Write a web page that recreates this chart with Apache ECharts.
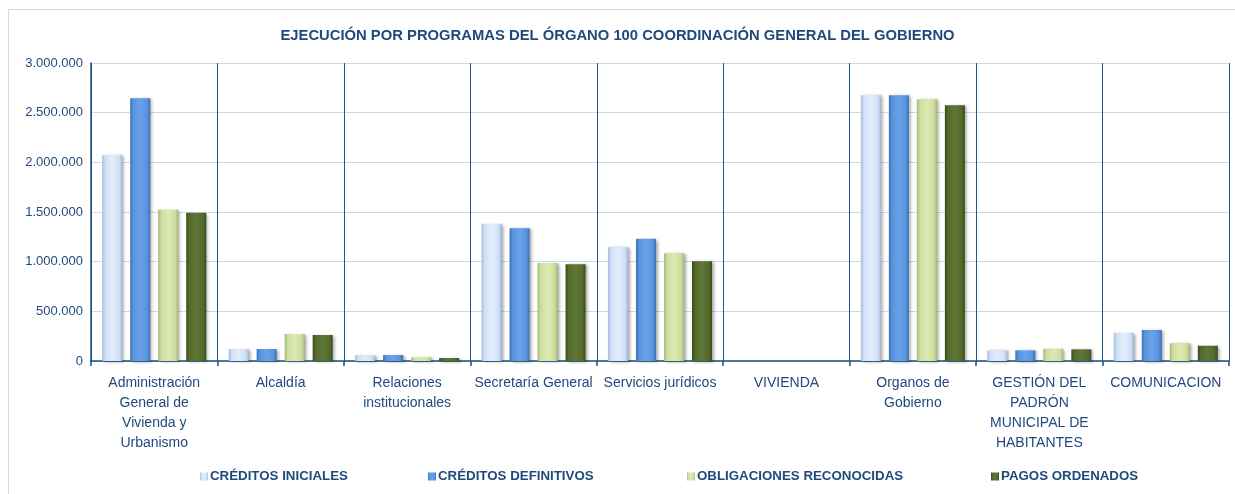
<!DOCTYPE html>
<html>
<head>
<meta charset="utf-8">
<script src="https://cdn.jsdelivr.net/npm/echarts@6/dist/echarts.min.js"></script>
<style>
html,body{margin:0;padding:0;background:#fff;}
#chart{width:1235px;height:494px;}
</style>
</head>
<body>
<div id="chart"></div>
<script>
const titleText = 'EJECUCIÓN POR PROGRAMAS DEL ÓRGANO 100 COORDINACIÓN GENERAL DEL GOBIERNO';
const categories = [
  'Administración\nGeneral de\nVivienda y\nUrbanismo',
  'Alcaldía',
  'Relaciones\ninstitucionales',
  'Secretaría General',
  'Servicios jurídicos',
  'VIVIENDA',
  'Organos de\nGobierno',
  'GESTIÓN DEL\nPADRÓN\nMUNICIPAL DE\nHABITANTES',
  'COMUNICACION'
];
const seriesNames = ['CRÉDITOS INICIALES', 'CRÉDITOS DEFINITIVOS', 'OBLIGACIONES RECONOCIDAS', 'PAGOS ORDENADOS'];
const creditosIniciales    = [2072000, 121000, 57000, 1382000, 1144000, 0, 2675000, 107000, 285000];
const creditosDefinitivos  = [2644000, 121000, 60000, 1336000, 1231000, 0, 2675000, 107000, 312000];
const obligaciones         = [1524000, 272000, 37000,  987000, 1084000, 0, 2634000, 124000, 178000];
const pagosOrdenados       = [1493000, 262000, 30000,  973000, 1004000, 0, 2574000, 117000, 154000];
const yTicks = { min: 0, max: 3000000, interval: 500000 };

const seriesValues = [creditosIniciales, creditosDefinitivos, obligaciones, pagosOrdenados];
const palettes = [
  { edge: '#a3bad9', mid: '#cfe0f7', hi: '#e3eefc' },
  { edge: '#3a6fb6', mid: '#5893dd', hi: '#68a3ea' },
  { edge: '#a5b874', mid: '#cddd9e', hi: '#dde9b4' },
  { edge: '#384b16', mid: '#536a2a', hi: '#5e7637' }
];
function grad(p) {
  return new echarts.graphic.LinearGradient(0, 0, 1, 0, [
    { offset: 0, color: p.edge },
    { offset: 0.15, color: p.mid },
    { offset: 0.5, color: p.hi },
    { offset: 0.85, color: p.mid },
    { offset: 1, color: p.edge }
  ]);
}
const fontFam = "'Liberation Sans', Arial, sans-serif";
const navy = '#1f4e79';
const textColor = '#1f497d';

const legendLefts = [200, 428, 687, 991];
const legends = seriesNames.map((n, i) => ({
  data: [n],
  left: legendLefts[i],
  top: 470,
  icon: 'rect',
  itemWidth: 8,
  itemHeight: 8,
  itemGap: 2,
  padding: 0,
  selectedMode: false,
  textStyle: { fontFamily: fontFam, fontSize: 13.3, fontWeight: 'bold', color: textColor, padding: [0, 0, 0, -3] }
}));

const chart = echarts.init(document.getElementById('chart'), null, { renderer: 'canvas' });
chart.setOption({
  animation: false,
  backgroundColor: '#fff',
  title: {
    text: titleText,
    left: 'center',
    top: 23,
    textStyle: { fontFamily: fontFam, fontSize: 14.8, fontWeight: 'bold', color: textColor }
  },
  legend: legends,
  graphic: [{
    type: 'rect',
    shape: { x: 8.5, y: 9.5, width: 1240, height: 500 },
    style: { fill: 'none', stroke: '#d9d9d9', lineWidth: 1 },
    silent: true,
    z: -1
  }],
  grid: { left: 91, right: 6, top: 63, bottom: 133, containLabel: false },
  xAxis: {
    type: 'category',
    data: categories,
    axisLine: { show: true, lineStyle: { color: navy, width: 1.5 } },
    axisTick: { show: true, length: 5, lineStyle: { color: navy, width: 1.5 } },
    splitLine: { show: true, lineStyle: { color: '#2c5289', width: 1 } },
    axisLabel: {
      interval: 0,
      margin: 12,
      fontFamily: fontFam,
      fontSize: 14,
      lineHeight: 20,
      color: textColor,
      align: 'center'
    }
  },
  yAxis: {
    type: 'value',
    min: yTicks.min,
    max: yTicks.max,
    interval: yTicks.interval,
    axisLine: { show: true, lineStyle: { color: navy, width: 1.5 } },
    axisTick: { show: false },
    splitLine: { show: true, lineStyle: { color: '#c9daf0', width: 1 } },
    axisLabel: {
      margin: 8,
      fontFamily: fontFam,
      fontSize: 13,
      color: textColor,
      formatter: v => String(v).replace(/\B(?=(\d{3})+(?!\d))/g, '.')
    }
  },
  series: seriesNames.map((n, i) => ({
    name: n,
    type: 'bar',
    data: seriesValues[i],
    barWidth: 20,
    barGap: '40%',
    itemStyle: {
      color: grad(palettes[i]),
      borderWidth: 0,
      shadowColor: 'rgba(0,0,0,0.35)',
      shadowBlur: 3,
      shadowOffsetX: 2,
      shadowOffsetY: 1
    }
  }))
});
</script>
</body>
</html>
